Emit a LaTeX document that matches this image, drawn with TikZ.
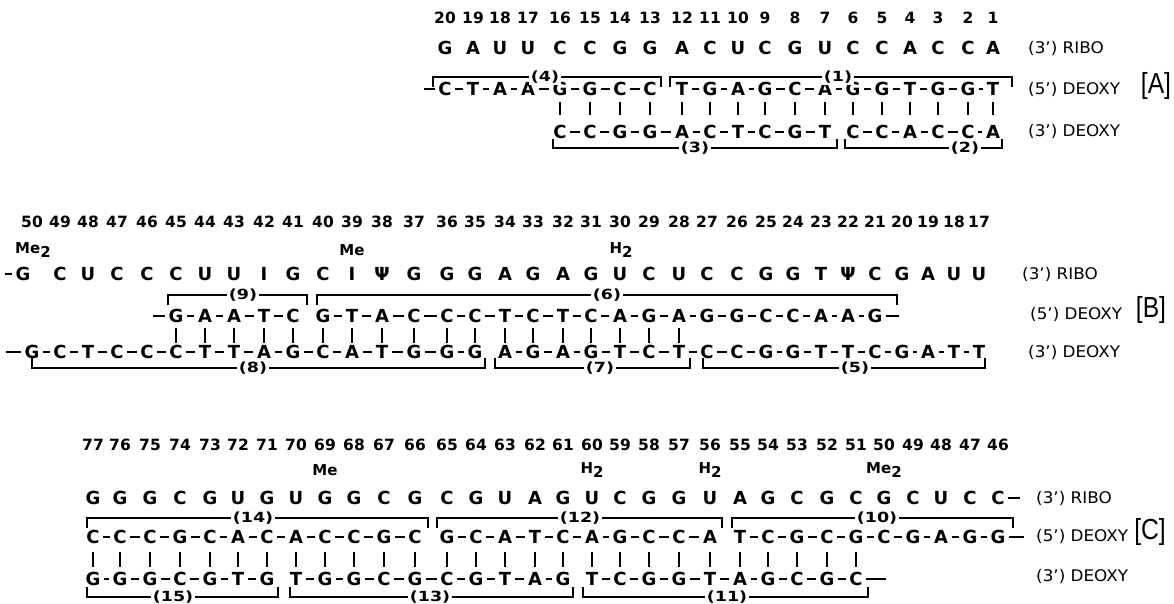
\documentclass[tikz,border=0pt]{standalone}
\usepackage{graphicx}
\usepackage{fontspec}
\setmainfont{DejaVu Sans}
\newfontfamily\brfont{Liberation Sans}
\tikzset{
  xseq/.style={inner sep=1.5pt, font=\fontsize{18}{21}\selectfont\bfseries, text height=13.1pt, text depth=0pt},
  xnum/.style={inner sep=1pt, font=\fontsize{15.5}{18}\selectfont\bfseries, text height=11.3pt, text depth=0pt},
  xmod/.style={inner sep=0pt, font=\fontsize{15}{18}\selectfont\bfseries},
  xlab/.style={anchor=west, inner sep=0pt, font=\fontsize{16}{19}\selectfont, text height=11.7pt, text depth=0pt},
  xpanel/.style={inner sep=0pt, font=\brfont\fontsize{29}{31}\selectfont},
  xbond/.style={line width=1.5pt, shorten <=2pt, shorten >=2pt},
  xpair/.style={line width=1.8pt},
  xbrk/.style={line width=1.3pt},
  xblab/.style={fill=white, inner sep=1.5pt, font=\fontsize{14}{16}\selectfont\bfseries}
}
\newcommand\brkmark[7]{%
  \coordinate (#1l) at (#2,#5);
  \coordinate (#1r) at (#3,#5);
  \draw[xbrk] (#1l) |- (#6,#4) -| (#1r);
  \node[xblab] (#1) at (#6,#4) {\scalebox{1.25}[1]{#7}};}
\newcommand\lbl[1]{\scalebox{1.05}[1]{#1}}
\newcommand\pnl[1]{\scalebox{0.85}[1]{#1}}
\begin{document}
\begin{tikzpicture}[x=1pt,y=-1pt]
\useasboundingbox (0,0) rectangle (1174,603);
% ================= PANEL A =================
\foreach \n/\x in {1/993,2/968,3/938,4/910,5/882,6/853,7/825,8/795,9/765,10/738,11/710,12/682,13/650,14/620,15/590,16/560,17/528,18/500,19/473,20/445}
  {\coordinate (A\n) at (\x,0);}
\foreach \n in {1,...,20} {\path (A\n) ++(0,18) node[xnum] (An\n) {\n};}
\foreach \n/\t in {20/G,19/A,18/U,17/U,16/C,15/C,14/G,13/G,12/A,11/C,10/U,9/C,8/G,7/U,6/C,5/C,4/A,3/C,2/C,1/A}
  {\path (A\n) ++(0,48) node[xseq] (Ar\n) {\t};}
\foreach \n/\t in {20/C,19/T,18/A,17/A,16/G,15/G,14/C,13/C,12/T,11/G,10/A,9/G,8/C,7/A,6/G,5/G,4/T,3/G,2/G,1/T}
  {\path (A\n) ++(0,89) node[xseq] (Au\n) {\t};}
\foreach \n/\t in {16/C,15/C,14/G,13/G,12/A,11/C,10/T,9/C,8/G,7/T,6/C,5/C,4/A,3/C,2/C,1/A}
  {\path (A\n) ++(0,132) node[xseq] (Al\n) {\t};}
\coordinate (Aus) at (424,89);
\draw[xbond, shorten <=0pt] (Aus) -- (Au20);
\foreach \a [evaluate=\a as \b using int(\a-1)] in {20,19,18,17,16,15,14,12,11,10,9,8,7,6,5,4,3,2}
  {\draw[xbond] (Au\a) -- (Au\b);}
\foreach \a [evaluate=\a as \b using int(\a-1)] in {16,15,14,13,12,11,10,9,8,6,5,4,3,2}
  {\draw[xbond] (Al\a) -- (Al\b);}
\foreach \n in {1,...,16} {\draw[xpair, shorten <=5pt, shorten >=9pt] (Au\n) -- (Al\n);}
\brkmark{k4}{433}{661}{77}{87}{545}{(4)}
\brkmark{k1}{670}{1012}{77}{87}{838}{(1)}
\brkmark{k3}{553}{837}{148}{139}{695}{(3)}
\brkmark{k2}{845}{1002}{148}{139}{965}{(2)}
\node[xlab] (Alr) at (1028,48) {\lbl{(3') RIBO}};
\node[xlab] (Alu) at (1028,89) {\lbl{(5') DEOXY}};
\node[xlab] (All) at (1028,131) {\lbl{(3') DEOXY}};
\node[xpanel] (PA) at (1156,86) {\pnl{[A]}};
% ================= PANEL B =================
\foreach \n/\x in {50/32,49/60,48/88,47/117,46/147,45/176,44/205,43/234,42/264,41/293,40/323,39/352,38/382,37/414,36/447,35/475,34/505,33/533,32/563,31/591,30/620,29/649,28/679,27/707,26/737,25/766,24/793,23/821,22/848,21/875,20/902,19/928,18/954,17/979}
  {\coordinate (B\n) at (\x,0);}
\foreach \n in {17,...,50} {\path (B\n) ++(0,222) node[xnum] (Bn\n) {\n};}
\path (B50) ++(-9,274) node[xseq] (Br50) {G};
\foreach \n/\t in {49/C,48/U,47/C,46/C,45/C,44/U,43/U,42/I,41/G,40/C,39/I,38/Ψ,37/G,36/G,35/G,34/A,33/G,32/A,31/G,30/U,29/C,28/U,27/C,26/C,25/G,24/G,23/T,22/Ψ,21/C,20/G,19/A,18/U,17/U}
  {\path (B\n) ++(0,274) node[xseq] (Br\n) {\t};}
\foreach \n/\t in {45/G,44/A,43/A,42/T,41/C,40/G,39/T,38/A,37/C,36/C,35/C,34/T,33/C,32/T,31/C,30/A,29/G,28/A,27/G,26/G,25/C,24/C,23/A,22/A,21/G}
  {\path (B\n) ++(0,316) node[xseq] (Bu\n) {\t};}
\foreach \n/\t in {50/G,49/C,48/T,47/C,46/C,45/C,44/T,43/T,42/A,41/G,40/C,39/A,38/T,37/G,36/G,35/G,34/A,33/G,32/A,31/G,30/T,29/C,28/T,27/C,26/C,25/G,24/G,23/T,22/T,21/C,20/G,19/A,18/T,17/T}
  {\path (B\n) ++(0,352) node[xseq] (Bl\n) {\t};}
\node[xmod] (Bme50) at (33,250) {Me\raisebox{-0.4ex}{2}};
\node[xmod] (Bme39) at (352,250) {Me};
\node[xmod] (Bh30) at (621,250) {H\raisebox{-0.4ex}{2}};
\coordinate (Brs) at (5,274);
\draw[xbond, shorten <=0pt] (Brs) -- (Br50);
\coordinate (Bus) at (153,316);
\coordinate (Bue) at (899,316);
\draw[xbond, shorten <=0pt] (Bus) -- (Bu45);
\draw[xbond, shorten >=0pt] (Bu21) -- (Bue);
\foreach \a [evaluate=\a as \b using int(\a-1)] in {45,44,43,42,40,39,38,37,36,35,34,33,32,31,30,29,28,27,26,25,24,23,22}
  {\draw[xbond] (Bu\a) -- (Bu\b);}
\coordinate (Bls) at (6,352);
\draw[xbond, shorten <=0pt] (Bls) -- (Bl50);
\foreach \a [evaluate=\a as \b using int(\a-1)] in {50,49,48,47,46,45,44,43,42,41,40,39,38,37,36,34,33,32,31,30,29,28,27,26,25,24,23,22,21,20,19,18}
  {\draw[xbond] (Bl\a) -- (Bl\b);}
\foreach \n in {28,...,45} {\draw[xpair, shorten <=4pt, shorten >=1pt] (Bu\n) -- (Bl\n);}
\brkmark{k9}{168}{307}{295}{305}{243}{(9)}
\brkmark{k6}{317}{897}{295}{305}{607}{(6)}
\brkmark{k8}{32}{485}{368}{358}{253}{(8)}
\brkmark{k7}{495}{690}{368}{358}{600}{(7)}
\brkmark{k5}{703}{985}{368}{358}{855}{(5)}
\node[xlab] (Blr) at (1022,274) {\lbl{(3') RIBO}};
\node[xlab] (Blu) at (1030,314) {\lbl{(5') DEOXY}};
\node[xlab] (Bll) at (1028,352) {\lbl{(3') DEOXY}};
\node[xpanel] (PB) at (1151,310) {\pnl{[B]}};
% ================= PANEL C =================
\foreach \n/\x in {77/93,76/120,75/150,74/180,73/210,72/238,71/267,70/296,69/325,68/354,67/384,66/415,65/447,64/476,63/505,62/535,61/563,60/592,59/620,58/649,57/679,56/710,55/740,54/768,53/797,52/827,51/856,50/884,49/913,48/941,47/970,46/998}
  {\coordinate (C\n) at (\x,0);}
\foreach \n in {46,...,77} {\path (C\n) ++(0,445) node[xnum] (Cn\n) {\n};}
\foreach \n/\t in {77/G,76/G,75/G,74/C,73/G,72/U,71/G,70/U,69/G,68/G,67/C,66/G,65/C,64/G,63/U,62/A,61/G,60/U,59/C,58/G,57/G,56/U,55/A,54/G,53/C,52/G,51/C,50/G,49/C,48/U,47/C,46/C}
  {\path (C\n) ++(0,498) node[xseq] (Cr\n) {\t};}
\foreach \n/\t in {77/C,76/C,75/C,74/G,73/C,72/A,71/C,70/A,69/C,68/C,67/G,66/C,65/G,64/C,63/A,62/T,61/C,60/A,59/G,58/C,57/C,56/A,55/T,54/C,53/G,52/C,51/G,50/C,49/G,48/A,47/G,46/G}
  {\path (C\n) ++(0,537) node[xseq] (Cu\n) {\t};}
\foreach \n/\t in {77/G,76/G,75/G,74/C,73/G,72/T,71/G,70/T,69/G,68/G,67/C,66/G,65/C,64/G,63/T,62/A,61/G,60/T,59/C,58/G,57/G,56/T,55/A,54/G,53/C,52/G,51/C}
  {\path (C\n) ++(0,579) node[xseq] (Cl\n) {\t};}
\node[xmod] (Cme69) at (325,470) {Me};
\node[xmod] (Ch60) at (592,470) {H\raisebox{-0.4ex}{2}};
\node[xmod] (Ch56) at (710,470) {H\raisebox{-0.4ex}{2}};
\node[xmod] (Cme50) at (884,470) {Me\raisebox{-0.4ex}{2}};
\coordinate (Cre) at (1020,498);
\draw[xbond, shorten >=0pt] (Cr46) -- (Cre);
\coordinate (Cue) at (1024,537);
\draw[xbond, shorten >=0pt] (Cu46) -- (Cue);
\foreach \a [evaluate=\a as \b using int(\a-1)] in {77,76,75,74,73,72,71,70,69,68,67,65,64,63,62,61,60,59,58,57,55,54,53,52,51,50,49,48,47}
  {\draw[xbond] (Cu\a) -- (Cu\b);}
\coordinate (Cle) at (886,579);
\draw[xbond, shorten >=0pt] (Cl51) -- (Cle);
\foreach \a [evaluate=\a as \b using int(\a-1)] in {77,76,75,74,73,72,70,69,68,67,66,65,64,63,62,60,59,58,57,56,55,54,53,52}
  {\draw[xbond] (Cl\a) -- (Cl\b);}
\foreach \n in {51,...,77} {\draw[xpair, shorten <=7pt, shorten >=4pt] (Cu\n) -- (Cl\n);}
\brkmark{k14}{87}{428}{518}{528}{253}{(14)}
\brkmark{k12}{437}{722}{518}{528}{580}{(12)}
\brkmark{k10}{732}{1013}{518}{528}{877}{(10)}
\brkmark{k15}{87}{278}{597}{587}{173}{(15)}
\brkmark{k13}{290}{573}{597}{587}{430}{(13)}
\brkmark{k11}{583}{868}{597}{587}{727}{(11)}
\node[xlab] (Clr) at (1036,498) {\lbl{(3') RIBO}};
\node[xlab] (Clu) at (1036,536) {\lbl{(5') DEOXY}};
\node[xlab] (Cll) at (1036,576) {\lbl{(3') DEOXY}};
\node[xpanel] (PC) at (1150,532) {\pnl{[C]}};
\end{tikzpicture}
\end{document}
